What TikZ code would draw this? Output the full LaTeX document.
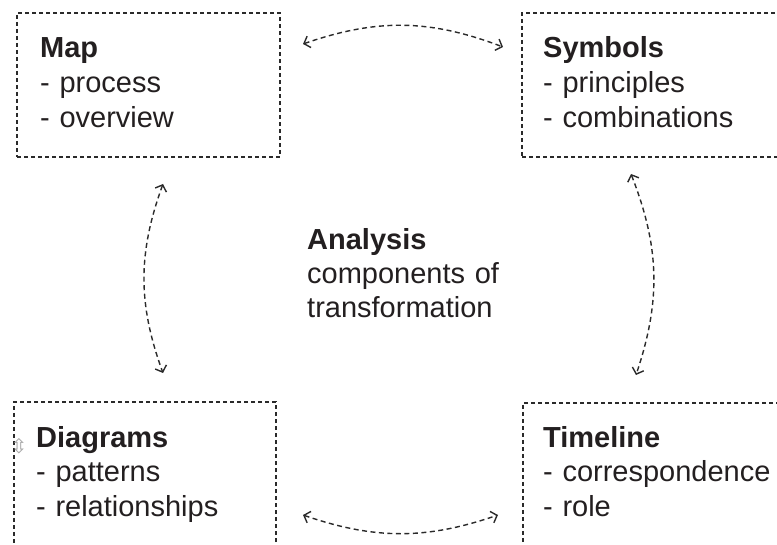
\documentclass[tikz,border=0pt]{standalone}
\usepackage{fontspec}
\setmainfont{Liberation Sans}
\newfontfamily\symfont{DejaVu Sans}
\usetikzlibrary{arrows.meta}
\definecolor{ink}{HTML}{231F20}
\definecolor{line}{HTML}{2A2A2A}
\begin{document}
\begin{tikzpicture}[x=1pt,y=-1pt,
  box/.style={draw=line, line width=1.1pt, dash pattern=on 4pt off 3pt, rectangle, inner sep=0pt},
  label/.style={anchor=base west, inner sep=0pt, text width=260pt, align=left, text=ink,
    font=\fontsize{29}{35}\selectfont},
  conn/.style={draw=line, line width=1.4pt, dash pattern=on 5pt off 3.5pt,
    {Straight Barb[length=5.5pt,width=12pt]}-{Straight Barb[length=5.5pt,width=12pt]}}]
\useasboundingbox (0,0) rectangle (777,545);

% boxes
\node[box, minimum width=263pt, minimum height=144pt] (mapbox) at (148.5,85) {};
\node[box, minimum width=268pt, minimum height=144pt] (symbox) at (656,85) {};
\node[box, minimum width=262pt, minimum height=158pt] (diabox) at (145,481) {};
\node[box, minimum width=267pt, minimum height=157pt] (timbox) at (656.5,481.5) {};

% texts
\node[label] (maptext) at (40,58) {\textbf{Map}\\- process\\- overview};
\node[label] (symtext) at (543,58) {\textbf{Symbols}\\- principles\\- combinations};
\node[label] (diatext) at (36,447) {\textbf{Diagrams}\\- patterns\\- relationships};
\node[label] (timtext) at (543,447) {\textbf{Timeline}\\- correspondence\\- role};
\node[label, font=\fontsize{29}{34}\selectfont] (analysis) at (307,250)
  {\textbf{Analysis}\\components of\\transformation};

% small icon
\node[anchor=center, inner sep=0pt, text=gray!70, font=\symfont\fontsize{20}{20}\selectfont] (icon) at (19,446) {⇳};

% connector ends
\coordinate (t1) at (303,44);
\coordinate (t2) at (503,47);
\coordinate (b1) at (303,515);
\coordinate (b2) at (498,515);
\coordinate (l1) at (163,184);
\coordinate (l2) at (163,373);
\coordinate (r1) at (631,174);
\coordinate (r2) at (636,375);

\draw[conn] (t1) to[bend left=20] (t2);
\draw[conn] (b1) to[bend right=19] (b2);
\draw[conn] (l1) to[bend right=20] (l2);
\draw[conn] (r1) to[bend left=20] (r2);
\end{tikzpicture}
\end{document}
